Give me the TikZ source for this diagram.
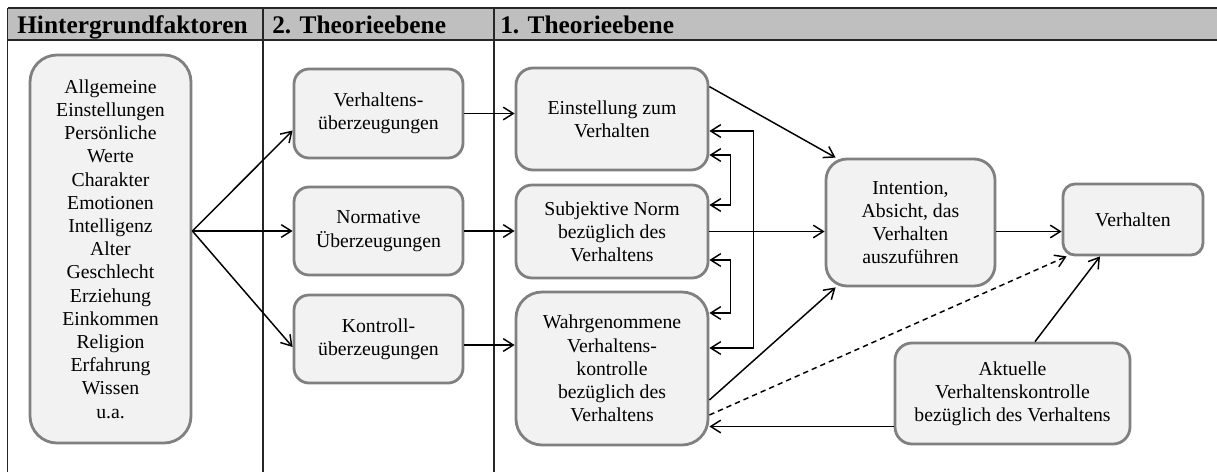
\documentclass[tikz,border=0pt]{standalone}
\usepackage{fontspec}
\setmainfont{Liberation Serif}
\usetikzlibrary{arrows.meta,calc}
\definecolor{boxfill}{HTML}{F2F2F2}
\definecolor{boxline}{HTML}{808080}
\definecolor{headfill}{HTML}{BFBFBF}

\begin{document}
\begin{tikzpicture}[x=0.75pt,y=-0.75pt,
  box/.style={draw=boxline, fill=boxfill, line width=2.1pt, align=center, inner sep=0pt,
    font=\fontsize{14.8}{17.4}\selectfont},
  rbox/.style n args={3}{box, minimum width=#1*0.75pt, minimum height=#2*0.75pt,
    rounded corners=#3*0.75pt},
  tipend/.tip={Straight Barb[length=7.5pt,width=9.5pt]},
  arr/.style={-tipend, line width=1.1pt},
  arrboth/.style={tipend-tipend, line width=1.1pt},
  head/.style={font=\fontsize{19}{22}\selectfont\bfseries, anchor=base west, inner sep=0pt},
  rule/.style={line width=0.8pt, draw=black!85}
]
\useasboundingbox (0,0) rectangle (1217,472);

% table header and column rules
\fill[headfill] (7.5,8) rectangle (1217,40);
\draw[rule] (7.5,8) -- (1217,8);
\draw[rule] (7.5,40) -- (1217,40);
\draw[rule] (7.5,8) -- (7.5,472);
\draw[rule] (263,8) -- (263,472);
\draw[rule] (494,8) -- (494,472);
\node[head] (h1) at (17,33) {Hintergrundfaktoren};
\node[head] (h2) at (272,33) {2. Theorieebene};
\node[head] (h3) at (500,33) {1. Theorieebene};

% background factors
\node[rbox={161}{388}{27}] (bg) at (110.5,249)
  {Allgemeine\\Einstellungen\\Persönliche\\Werte\\Charakter\\Emotionen\\Intelligenz\\Alter\\Geschlecht\\Erziehung\\Einkommen\\Religion\\Erfahrung\\Wissen\\u.a.};

% second level
\node[rbox={169}{89}{15}] (vb) at (378.5,113.5) {Verhaltens-\\überzeugungen};
\node[rbox={169}{88}{15}] (nb) at (378.5,231) {Normative\\Überzeugungen};
\node[rbox={169}{88}{15}] (kb) at (378.5,339) {Kontroll-\\überzeugungen};

% first level
\node[rbox={192}{102}{17}] (es) at (612,119) {Einstellung zum\\Verhalten};
\node[rbox={192}{93}{16}] (sn) at (612,231.5) {Subjektive Norm\\bezüglich des\\Verhaltens};
\node[rbox={192}{153}{26}] (wk) at (612,368.5) {Wahrgenommene\\Verhaltens-\\kontrolle\\bezüglich des\\Verhaltens};
\node[rbox={169}{127}{21}] (it) at (910.5,222.5) {Intention,\\Absicht, das\\Verhalten\\auszuführen};
\node[rbox={140}{71}{12}] (vh) at (1133,219.5) {Verhalten};
\node[rbox={235}{101}{17}] (ak) at (1012.5,393.5) {Aktuelle\\Verhaltenskontrolle\\bezüglich des Verhaltens};

% background factors -> beliefs
\draw[arr] (bg.east |- nb.west) -- ($(vb.west)+(0,17)$);
\draw[arr] (bg.east |- nb.west) -- (nb.west);
\draw[arr] (bg.east |- nb.west) -- ($(kb.west)+(0,8)$);

% beliefs -> first level
\draw[arr] (vb.east) -- (vb.east -| es.west);
\draw[arr] (nb.east) -- (nb.east -| sn.west);
\draw[arr] ($(kb.east)+(0,6)$) coordinate (k1) -- (k1 -| wk.west);

% first level -> intention -> behaviour
\draw[arr] ($(es.north east)+(0,20)$) -- ($(it.north west)+(11,0)$);
\draw[arr] (sn.east) -- (sn.east -| it.west);
\draw[arr] ($(wk.east)+(0,31.5)$) -- ($(it.south west)+(11,0)$);
\draw[arr] ($(it.east)+(0,9)$) coordinate (i1) -- (i1 -| vh.west);
\draw[arr, dash pattern=on 4pt off 3pt] ($(wk.east)+(0,46.5)$) -- ($(vh.south west)+(5,0)$);
\draw[arr] ($(ak.north)+(22.5,0)$) -- ($(vh.south)+(-33,0)$);
\draw[arr] ($(ak.west)+(0,33)$) coordinate (a1) -- (a1 -| wk.east);

% correlations between the first-level components
\draw[arrboth] ($(es.east)+(0,36)$) -- ++(21,0) |- ($(sn.east)+(0,-26.5)$);
\draw[arrboth] ($(sn.east)+(0,28.5)$) -- ++(21,0) |- ($(wk.east)+(0,-55.5)$);
\draw[arrboth] ($(es.east)+(0,12)$) -- ++(44,0) |- ($(wk.east)+(0,-20.5)$);
\end{tikzpicture}
\end{document}
